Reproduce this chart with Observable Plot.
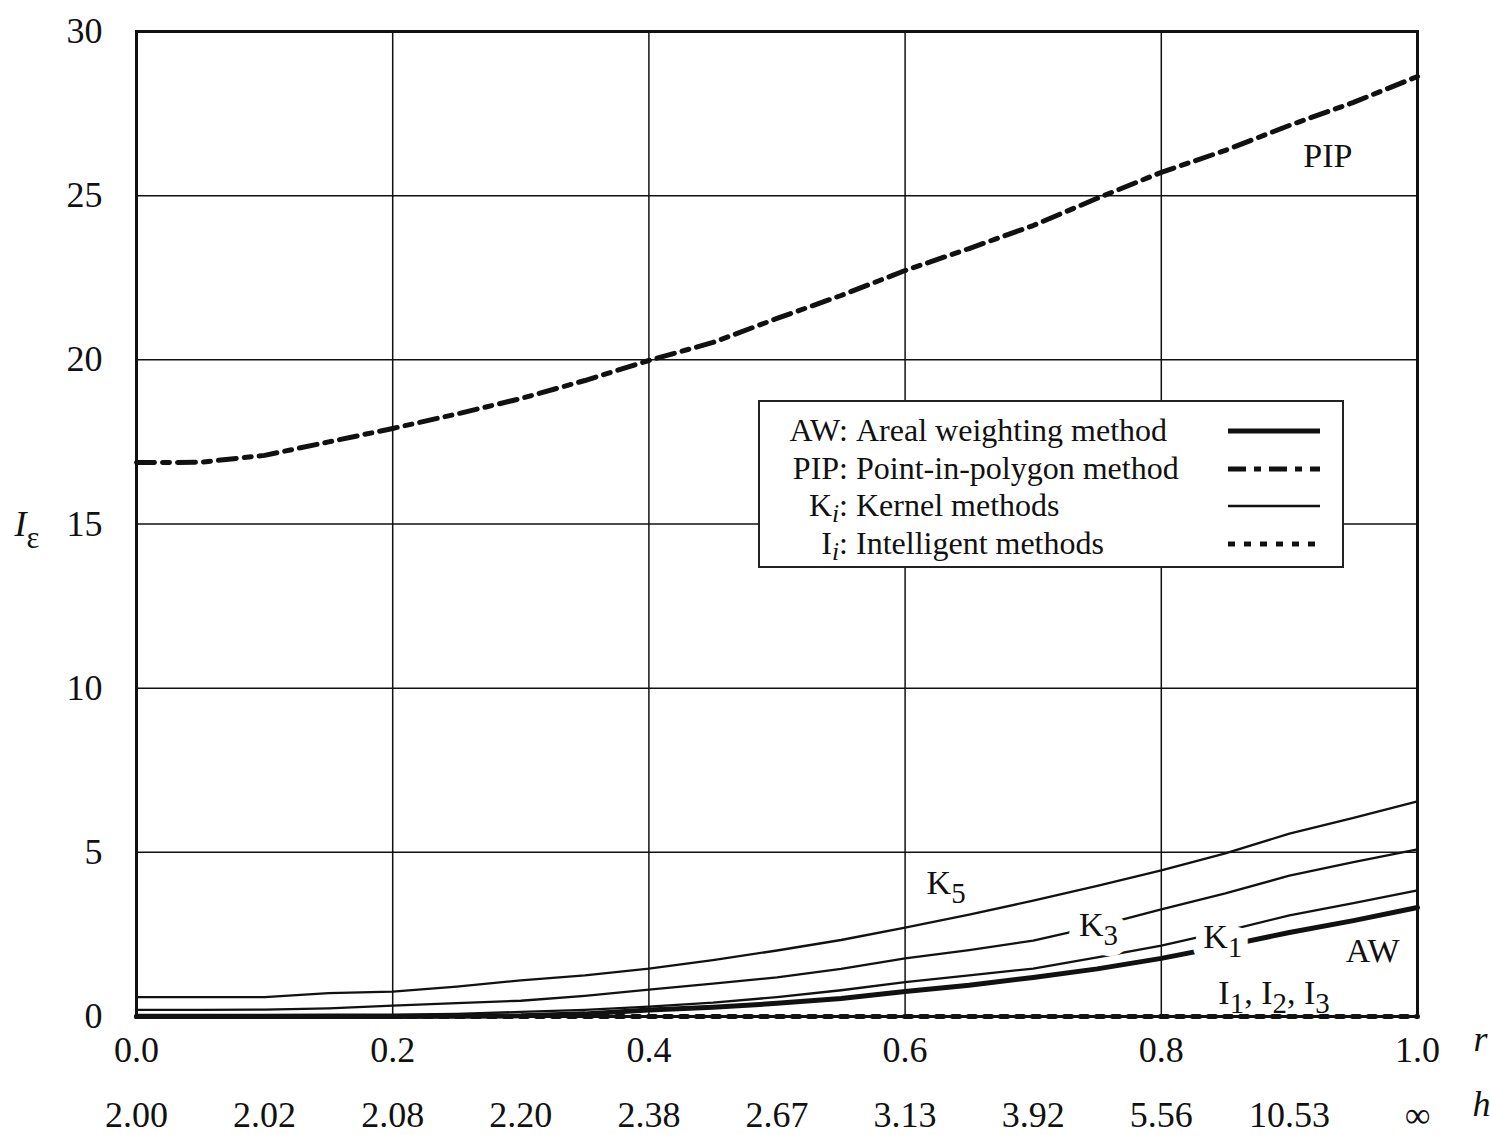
<!DOCTYPE html>
<html>
<head>
<meta charset="utf-8">
<script src="https://cdn.jsdelivr.net/npm/d3@7"></script>
<script src="https://cdn.jsdelivr.net/npm/@observablehq/plot@0.6"></script>
<style>
  html, body { margin: 0; padding: 0; background: #fff; }
  #wrap { position: relative; width: 1490px; height: 1135px; font-family: "Liberation Serif", "DejaVu Serif", serif; color: #111; }
  #legend { position: absolute; left: 758px; top: 400px; width: 586px; height: 168px; box-sizing: border-box;
            border: 2px solid #222; background: #fff; padding-top: 10px; }
  .row { position: relative; height: 37.5px; font-size: 32px; line-height: 37.5px; }
  .abbr { position: absolute; right: 494px; text-align: right; white-space: nowrap; }
  .desc { position: absolute; left: 96px; white-space: nowrap; }
  .sample { position: absolute; left: 466px; top: 8px; }
  sub { font-size: 80%; vertical-align: -0.25em; line-height: 0; }
</style>
</head>
<body>
<div id="wrap"></div>
<script>
// ---- data ----
const rValues = [0,0.05,0.1,0.15,0.2,0.25,0.3,0.35,0.4,0.45,0.5,0.55,0.6,0.65,0.7,0.75,0.8,0.85,0.9,0.95,1.0];
const pipValues = [16.87,16.88,17.09,17.50,17.91,18.35,18.82,19.37,19.98,20.53,21.26,21.96,22.72,23.39,24.09,24.92,25.71,26.38,27.14,27.84,28.63];
const k5Values  = [0.59,0.59,0.59,0.71,0.76,0.91,1.10,1.25,1.46,1.72,2.01,2.33,2.71,3.10,3.53,3.98,4.45,4.97,5.57,6.05,6.55];
const k3Values  = [0.20,0.20,0.21,0.25,0.33,0.41,0.48,0.63,0.82,1.00,1.19,1.45,1.77,2.02,2.31,2.75,3.26,3.75,4.29,4.70,5.09];
const k1Values  = [0.05,0.05,0.05,0.06,0.06,0.08,0.14,0.20,0.30,0.42,0.59,0.80,1.05,1.25,1.46,1.80,2.16,2.60,3.08,3.45,3.84];
const awValues  = [0,0,0,0,0,0.01,0.02,0.08,0.20,0.28,0.40,0.55,0.76,0.95,1.19,1.45,1.77,2.15,2.56,2.92,3.32];
const iValues   = [0,0,0,0,0,0,0,0,0,0,0,0,0,0,0,0,0,0,0,0,0];

const rTicks = [0,0.2,0.4,0.6,0.8,1.0];
const hTicks = [0,0.1,0.2,0.3,0.4,0.5,0.6,0.7,0.8,0.9,1.0];
const hLabels = ["2.00","2.02","2.08","2.20","2.38","2.67","3.13","3.92","5.56","10.53","∞"];
const yTicks = [0,5,10,15,20,25,30];

// curve labels; "gap" labels interrupt the lines they sit on
const labelText = ["PIP","K_5","K_3","K_1","AW","I_1, I_2, I_3"];
const labelR    = [0.93,0.632,0.751,0.848,0.965,0.888];
const labelV    = [26.2,4.05,2.78,2.42,2.0,0.72];
const labelGap  = [false,false,true,true,false,false];

// ---- build ----
const rows = (vals) => rValues.map((r, i) => ({r, v: vals[i]}));
const labels = labelText.map((t, i) => ({t, r: labelR[i], v: labelV[i], gap: labelGap[i]}));

const chart = Plot.plot({
  width: 1490,
  height: 1135,
  marginLeft: 136,
  marginRight: 73,
  marginTop: 31,
  marginBottom: 119,
  x: {domain: [0, 1]},
  y: {domain: [0, 30]},
  style: {fontFamily: "'Liberation Serif', serif", fontSize: "36px", color: "#111", background: "#fff"},
  marks: [
    Plot.gridX({ticks: [0.2,0.4,0.6,0.8], stroke: "#111", strokeOpacity: 1, strokeWidth: 1.5}),
    Plot.gridY({ticks: [5,10,15,20,25], stroke: "#111", strokeOpacity: 1, strokeWidth: 1.5}),
    Plot.line(rows(k5Values), {x: "r", y: "v", stroke: "#111", strokeWidth: 2.3}),
    Plot.line(rows(k3Values), {x: "r", y: "v", stroke: "#111", strokeWidth: 2.3}),
    Plot.line(rows(k1Values), {x: "r", y: "v", stroke: "#111", strokeWidth: 2.3}),
    Plot.line(rows(awValues), {x: "r", y: "v", stroke: "#111", strokeWidth: 5}),
    Plot.line(rows(pipValues), {x: "r", y: "v", stroke: "#111", strokeWidth: 5, strokeDasharray: "18,8,7,8"}),
    // white knock-out behind labels that break their lines
    Plot.text(labels.filter(d => d.gap), {x: "r", y: "v", text: "t",
      fontSize: 34, fill: "#fff", stroke: "#fff", strokeWidth: 22, strokeLinejoin: "round"}),
    Plot.text(labels, {x: "r", y: "v", text: "t", fontSize: 34, fill: "#111"}),
    Plot.line(rows(iValues), {x: "r", y: "v", stroke: "#111", strokeWidth: 5, strokeDasharray: "7,9"}),
    Plot.frame({stroke: "#111", strokeWidth: 3}),
    Plot.axisY({ticks: yTicks, tickSize: 0, tickPadding: 34, tickFormat: d => String(d), label: null}),
    Plot.axisX({ticks: rTicks, tickSize: 0, tickPadding: 20, tickFormat: d => d.toFixed(1), label: null}),
    Plot.axisX({ticks: hTicks, tickSize: 0, tickPadding: 85, tickFormat: d => hLabels[Math.round(d * 10)], label: null}),
    Plot.text(["r"], {frameAnchor: "bottom-right", text: d => d, dx: 56, dy: 34, textAnchor: "start", fontStyle: "italic"}),
    Plot.text(["h"], {frameAnchor: "bottom-right", text: d => d, dx: 55, dy: 99, textAnchor: "start", fontStyle: "italic"}),
    Plot.text(["I_ε"], {frameAnchor: "left", text: d => d, dx: -122, dy: 0, textAnchor: "start", fontStyle: "italic"})
  ]
});

// subscripts: "X_y" -> X with subscript y
chart.querySelectorAll("text").forEach(t => {
  const s = t.textContent;
  if (!s.includes("_")) return;
  while (t.firstChild) t.removeChild(t.firstChild);
  const parts = s.split(/_(.)/);
  parts.forEach((p, k) => {
    if (!p) return;
    const ts = document.createElementNS("http://www.w3.org/2000/svg", "tspan");
    ts.textContent = p;
    if (k % 2 === 1) {
      ts.setAttribute("baseline-shift", "-9");
      ts.setAttribute("font-size", "85%");
      if (p === "ε") { ts.setAttribute("font-style", "normal"); ts.setAttribute("baseline-shift", "-12"); }
    }
    t.appendChild(ts);
  });
});

const wrap = document.getElementById("wrap");
wrap.appendChild(chart);

// legend (HTML overlay inside the plot area)
const legendItems = [
  {abbr: "AW:", desc: "Areal weighting method", width: 5, dash: null},
  {abbr: "PIP:", desc: "Point-in-polygon method", width: 5, dash: "18,8,7,8"},
  {abbr: "K<sub><i>i</i></sub>:", desc: "Kernel methods", width: 2.3, dash: null},
  {abbr: "I<sub><i>i</i></sub>:", desc: "Intelligent methods", width: 5, dash: "7,9"}
];
const legend = document.createElement("div");
legend.id = "legend";
legend.innerHTML = legendItems.map(it => `
  <div class="row">
    <span class="abbr">${it.abbr}</span>
    <span class="desc">${it.desc}</span>
    <svg class="sample" width="96" height="22"><line x1="2" x2="94" y1="11" y2="11" stroke="#111" stroke-width="${it.width}" ${it.dash ? `stroke-dasharray="${it.dash}"` : ""}/></svg>
  </div>`).join("");
wrap.appendChild(legend);
</script>
</body>
</html>
